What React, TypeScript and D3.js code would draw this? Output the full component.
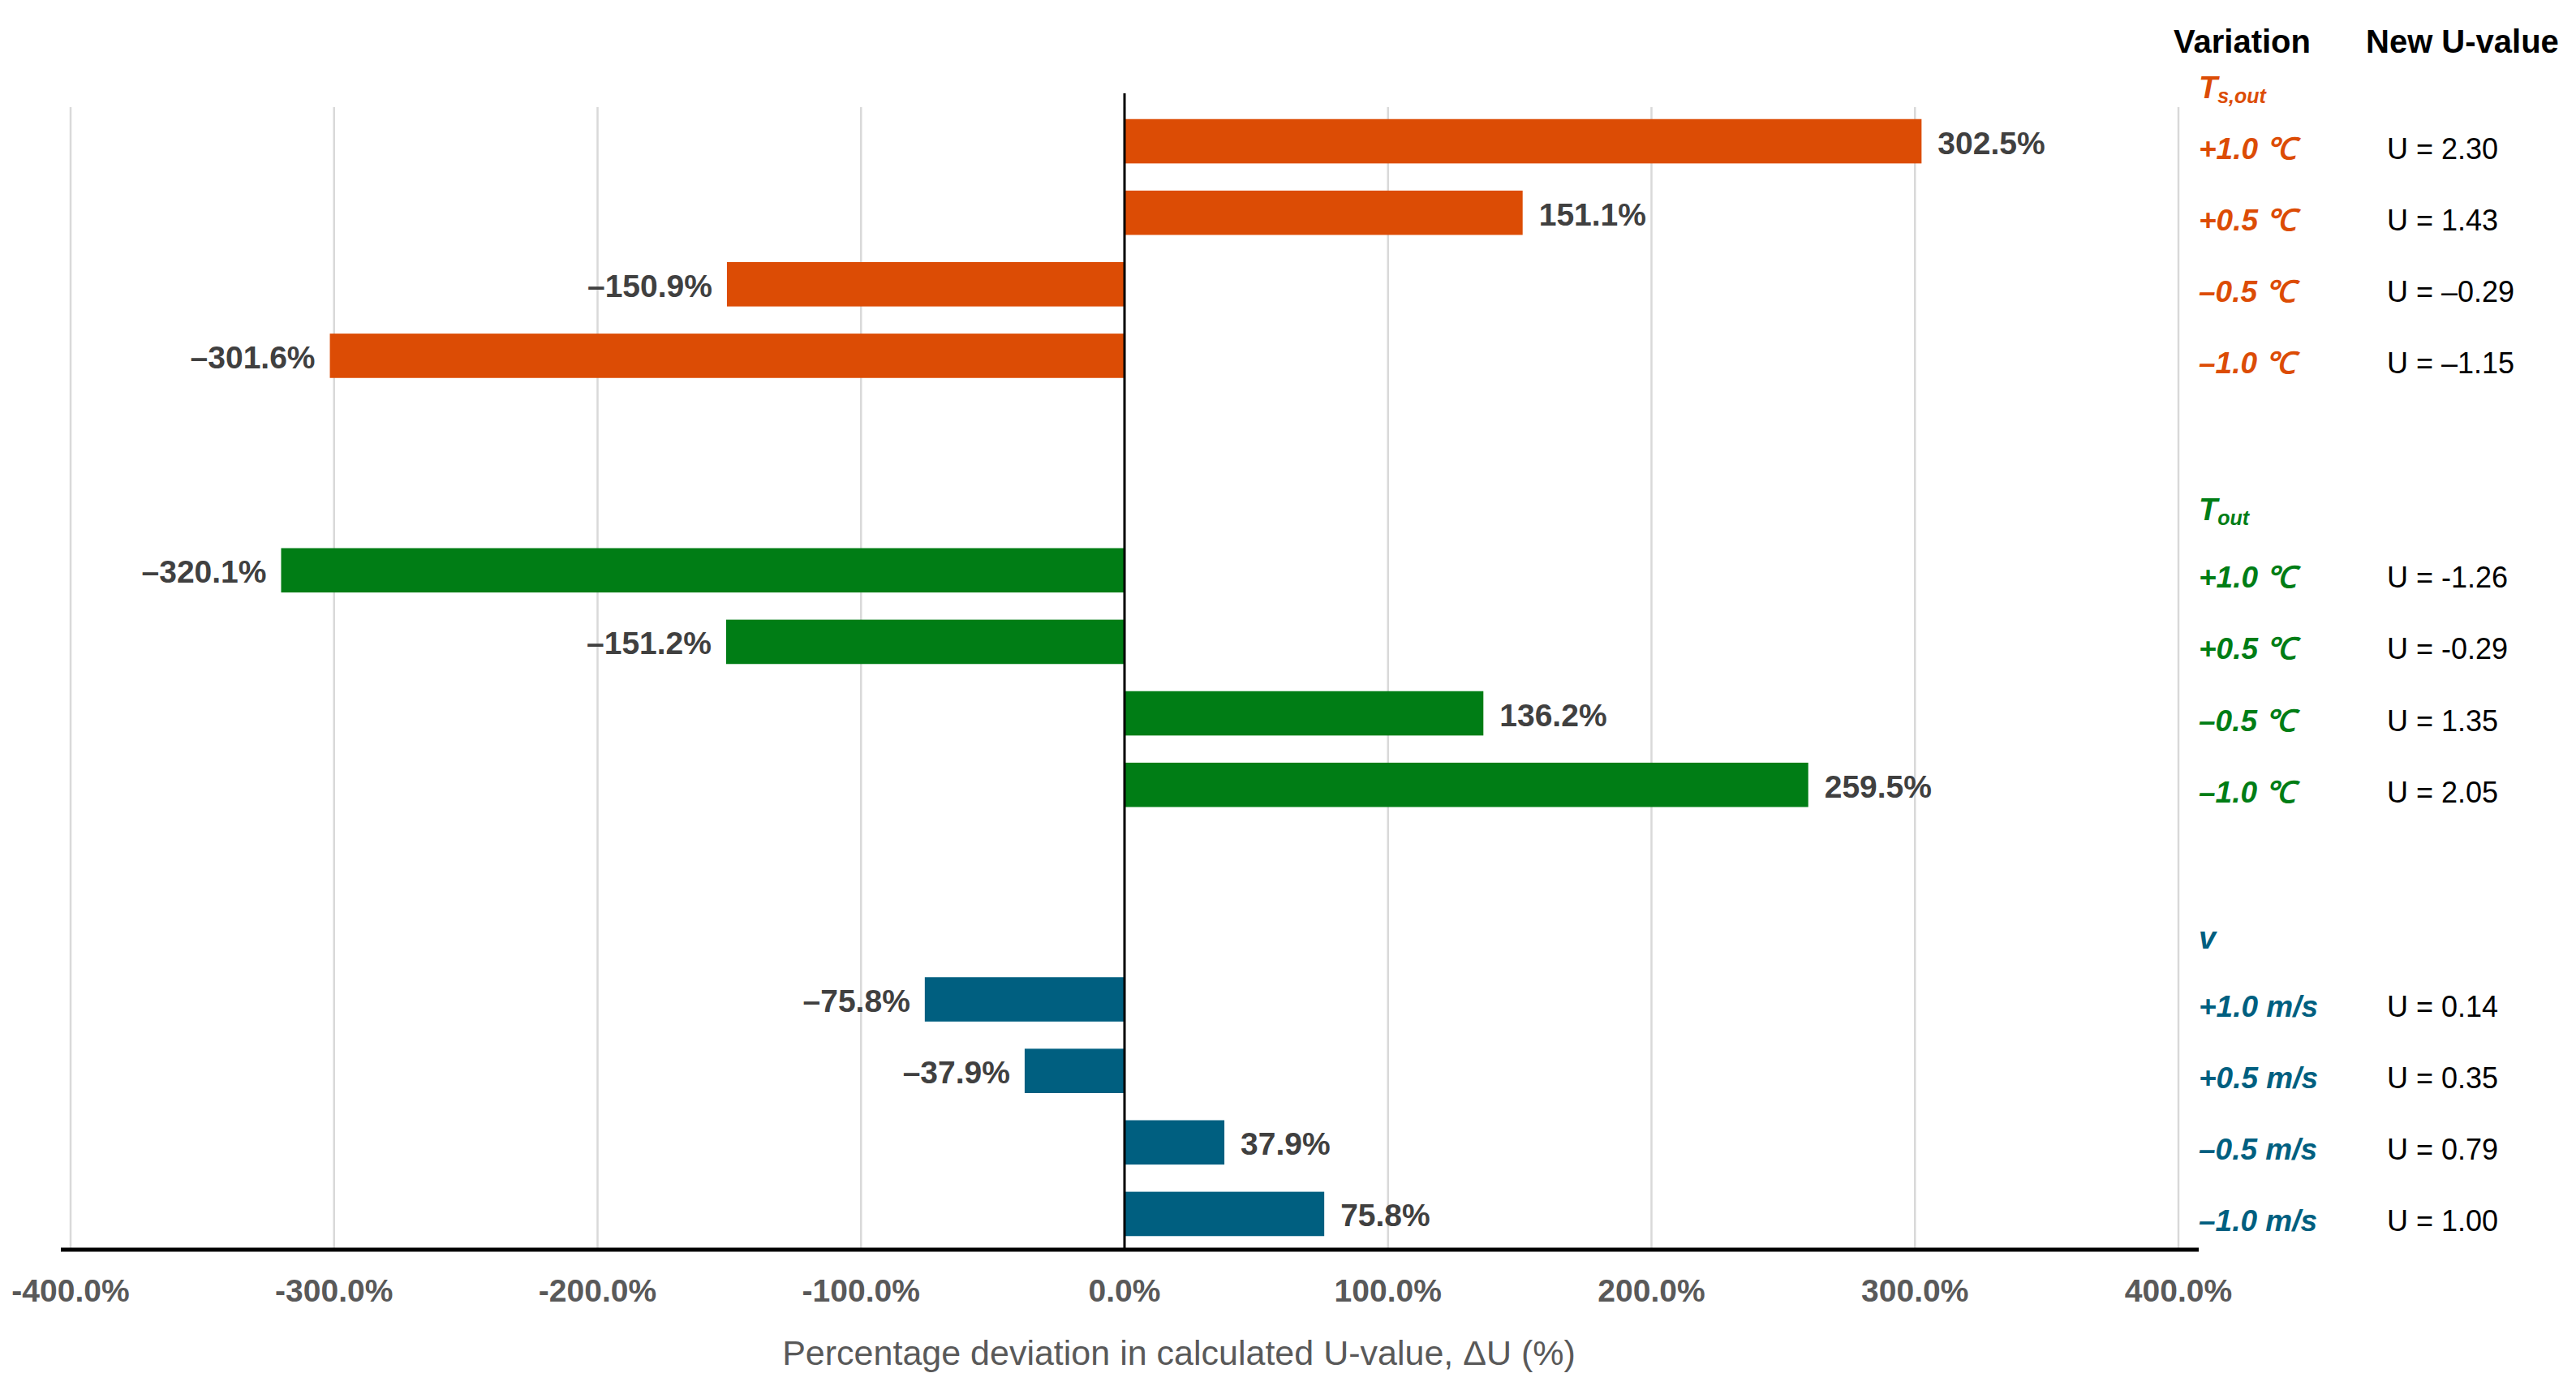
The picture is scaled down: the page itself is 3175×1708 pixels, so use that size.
import * as d3 from "d3";

// Surface temperature (Ts,out) variations
const tsVariations = ["+1.0 ℃", "+0.5 ℃", "–0.5 ℃", "–1.0 ℃"];
const tsDeviation = [302.5, 151.1, -150.9, -301.6];
const tsU = ["U = 2.30", "U = 1.43", "U = –0.29", "U = –1.15"];

// Outdoor air temperature (Tout) variations
const toutVariations = ["+1.0 ℃", "+0.5 ℃", "–0.5 ℃", "–1.0 ℃"];
const toutDeviation = [-320.1, -151.2, 136.2, 259.5];
const toutU = ["U = -1.26", "U = -0.29", "U = 1.35", "U = 2.05"];

// Wind speed (v) variations
const vVariations = ["+1.0 m/s", "+0.5 m/s", "–0.5 m/s", "–1.0 m/s"];
const vDeviation = [-75.8, -37.9, 37.9, 75.8];
const vU = ["U = 0.14", "U = 0.35", "U = 0.79", "U = 1.00"];

const xTicks = [-400, -300, -200, -100, 0, 100, 200, 300, 400];

const W = 3175;
const H = 1708;

const groups = [
  { key: "ts", main: "T", sub: "s,out", color: "#DC4C05", labels: tsVariations, values: tsDeviation, u: tsU, headerDy: -66 },
  { key: "tout", main: "T", sub: "out", color: "#007D15", labels: toutVariations, values: toutDeviation, u: toutU, headerDy: -75 },
  { key: "v", main: "v", sub: "", color: "#005F80", labels: vVariations, values: vDeviation, u: vU, headerDy: -76 },
];

type Row = { id: string; group?: (typeof groups)[number]; label?: string; value?: number; u?: string };

const rows: Row[] = [];
groups.forEach((g, gi) => {
  if (gi > 0) {
    rows.push({ id: `gap-${gi}-a` });
    rows.push({ id: `gap-${gi}-b` });
  }
  g.labels.forEach((l, i) => {
    rows.push({ id: `${g.key}-${i}`, group: g, label: l, value: g.values[i], u: g.u[i] });
  });
});

const fmtTick = (d: number) => (d < 0 ? "-" : "") + Math.abs(d).toFixed(1) + "%";
const fmtLabel = (d: number) => (d < 0 ? "–" : "") + Math.abs(d).toFixed(1) + "%";

export default function App() {
  const x = d3.scaleLinear().domain([-400, 400]).range([87, 2685]);
  const y = d3
    .scaleBand<string>()
    .domain(rows.map((r) => r.id))
    .range([130, 1540])
    .paddingInner(0.38)
    .paddingOuter(0.19);

  const axisY = 1540;
  const font = "'Liberation Sans', Arial, sans-serif";
  const barRows = rows.filter((r) => r.group);

  return (
    <svg
      width={W}
      height={H}
      style={{ position: "absolute", left: 0, top: 0, display: "block", background: "#fff" }}
      fontFamily={font}
    >
      <rect width={W} height={H} fill="#fff" />

      {/* gridlines */}
      {xTicks.map((t) => (
        <line key={t} x1={x(t)} x2={x(t)} y1={132} y2={axisY} stroke="#d9d9d9" strokeWidth={2.5} />
      ))}

      {/* bars */}
      {barRows.map((r) => (
        <rect
          key={r.id}
          x={x(Math.min(0, r.value!))}
          width={Math.abs(x(r.value!) - x(0))}
          y={y(r.id)}
          height={y.bandwidth()}
          fill={r.group!.color}
        />
      ))}

      {/* zero line */}
      <line x1={x(0)} x2={x(0)} y1={115} y2={axisY} stroke="#000" strokeWidth={3} />

      {/* axis line */}
      <line x1={75} x2={2710} y1={axisY} y2={axisY} stroke="#000" strokeWidth={5} />

      {/* tick labels */}
      {xTicks.map((t) => (
        <text
          key={t}
          x={x(t)}
          y={1590}
          textAnchor="middle"
          dominantBaseline="central"
          fontSize={39}
          fontWeight="bold"
          fill="#595959"
        >
          {fmtTick(t)}
        </text>
      ))}

      {/* data labels */}
      {barRows.map((r) => {
        const v = r.value!;
        const cy = y(r.id)! + y.bandwidth() / 2 + 2;
        return (
          <text
            key={r.id}
            x={v >= 0 ? x(v) + 20 : x(v) - 18}
            y={cy}
            textAnchor={v >= 0 ? "start" : "end"}
            dominantBaseline="central"
            fontSize={39}
            fontWeight="bold"
            fill="#404040"
          >
            {fmtLabel(v)}
          </text>
        );
      })}

      {/* axis title */}
      <text x={1453} y={1667} textAnchor="middle" dominantBaseline="central" fontSize={43} fill="#595959">
        Percentage deviation in calculated U-value, ΔU (%)
      </text>

      {/* right table headers */}
      <text x={2679} y={51} dominantBaseline="central" fontSize={40} fontWeight="bold" fill="#000">
        Variation
      </text>
      <text x={2916} y={51} dominantBaseline="central" fontSize={40} fontWeight="bold" fill="#000">
        New U-value
      </text>

      {/* group headers */}
      {groups.map((g) => {
        const cy = y(`${g.key}-0`)! + y.bandwidth() / 2 + g.headerDy;
        return (
          <text
            key={g.key}
            x={2710}
            y={cy}
            dominantBaseline="central"
            fontStyle="italic"
            fontWeight="bold"
            fill={g.color}
            fontSize={38}
          >
            {g.main}
            {g.sub && (
              <tspan fontSize={25} dy={10}>
                {g.sub}
              </tspan>
            )}
          </text>
        );
      })}

      {/* variation + U rows */}
      {barRows.map((r) => {
        const cy = y(r.id)! + y.bandwidth() / 2 + 9;
        return (
          <g key={r.id}>
            <text
              x={2710}
              y={cy}
              dominantBaseline="central"
              fontSize={37}
              fontStyle="italic"
              fontWeight="bold"
              fill={r.group!.color}
            >
              {r.label}
            </text>
            <text x={2942} y={cy} dominantBaseline="central" fontSize={36} fill="#000">
              {r.u}
            </text>
          </g>
        );
      })}
    </svg>
  );
}
